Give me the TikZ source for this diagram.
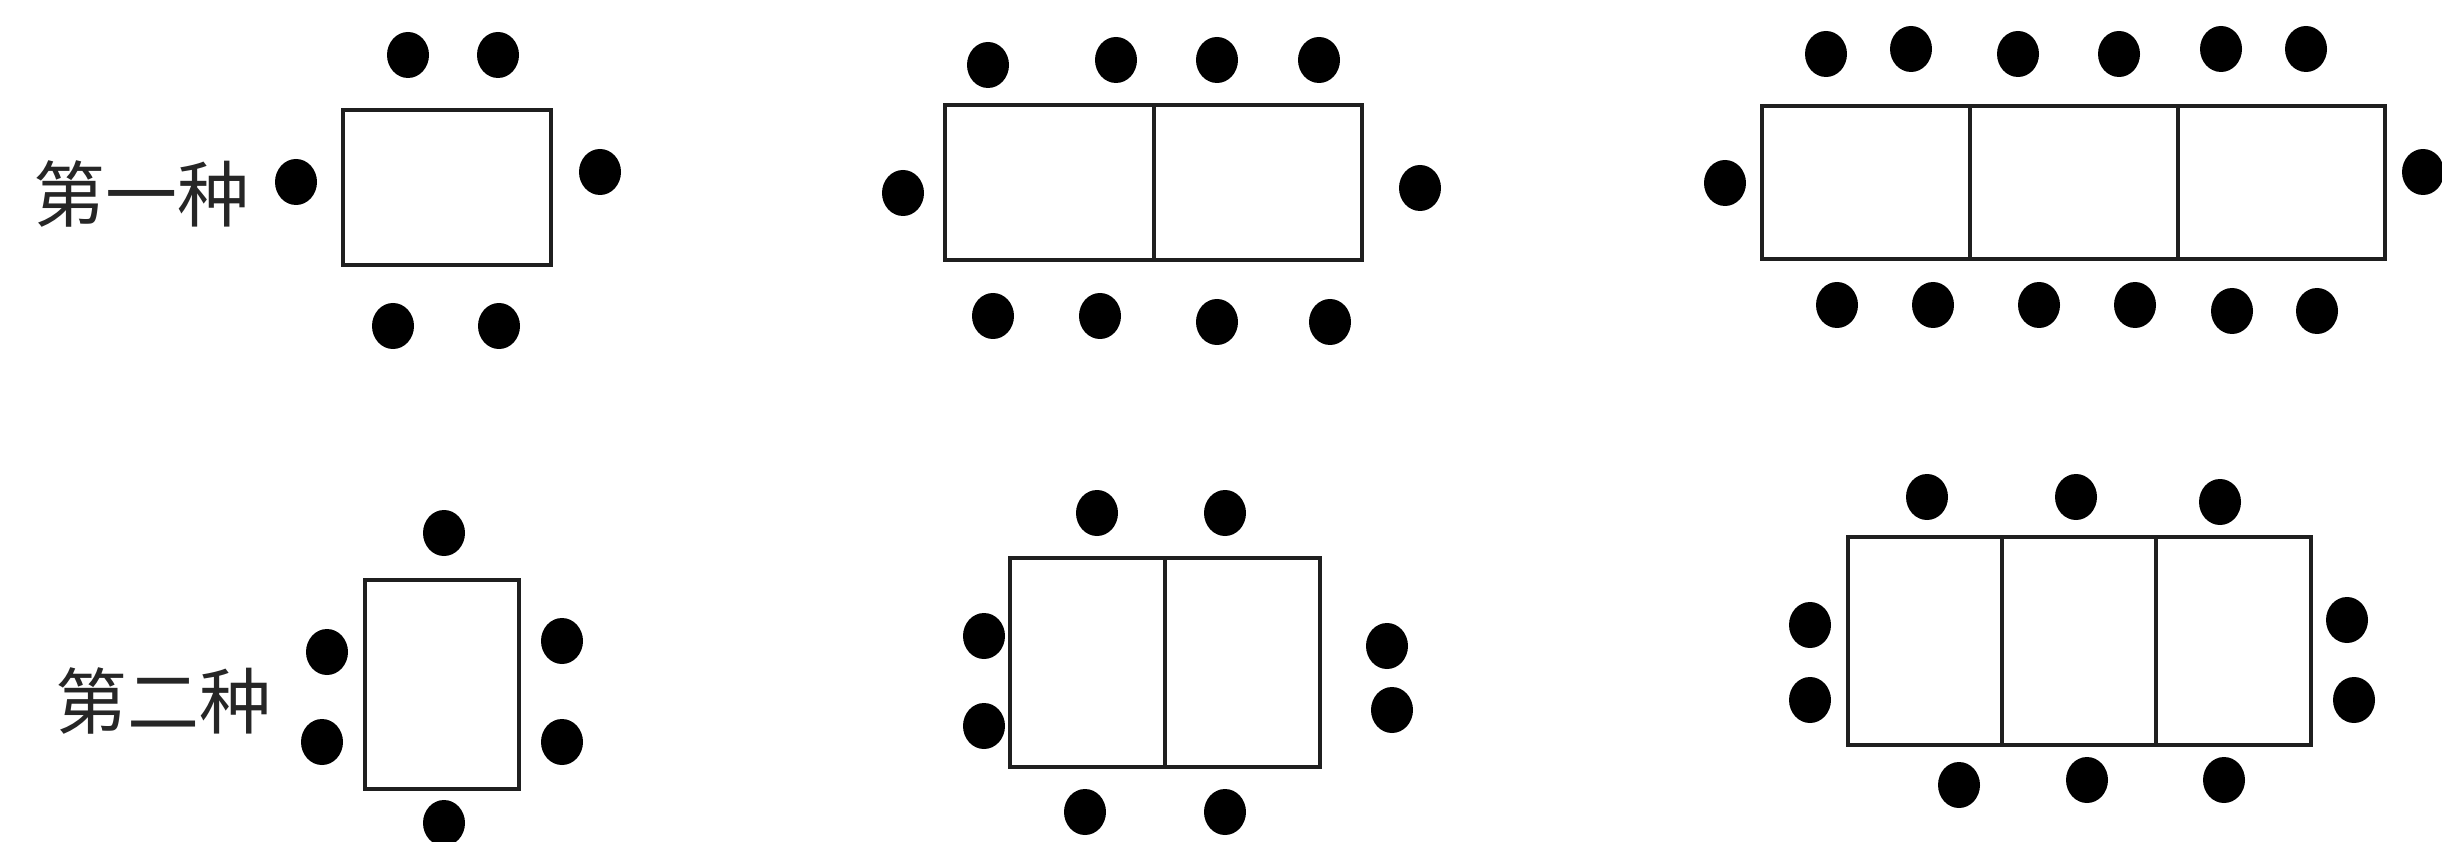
\documentclass[tikz,border=0pt]{standalone}
\usepackage{fontspec}
\newfontfamily\cjkfont{Noto Sans CJK SC}
\tikzset{
  tableline/.style={draw=black!88, line width=4.5pt, line join=miter},
  seatdot/.style={fill=black},
  rowlabel/.style={font=\cjkfont\fontsize{72}{72}\selectfont, text=black!85, inner sep=0pt},
}
% one seat: filled ellipse at (x,y)
\newcommand{\seatat}[2]{\fill[seatdot] (#1,#2) ellipse [x radius=21pt, y radius=23pt];}
\begin{document}
\begin{tikzpicture}[x=1pt, y=-1pt]
  \useasboundingbox (0,0) rectangle (2442,842);
  \fill[white] (0,0) rectangle (2442,842);

  % row labels
  \node[rowlabel] (labelone) at (141,194) {第一种};
  \node[rowlabel] (labeltwo) at (163,701) {第二种};

  % ---- first arrangement: tables joined end to end ----
  % one table
  \draw[tableline] (343,110) rectangle (551,265);
  \foreach \x/\y in {408/55, 498/55, 296/182, 600/172, 393/326, 499/326}
    {\seatat{\x}{\y}}

  % two tables
  \draw[tableline] (945,105) rectangle (1362,260);
  \draw[tableline] (1154,105) -- (1154,260);
  \foreach \x/\y in {988/65, 1116/60, 1217/60, 1319/60, 903/193, 1420/188,
                     993/316, 1100/316, 1217/322, 1330/322}
    {\seatat{\x}{\y}}

  % three tables
  \draw[tableline] (1762,106) rectangle (2385,259);
  \draw[tableline] (1970,106) -- (1970,259);
  \draw[tableline] (2178,106) -- (2178,259);
  \foreach \x/\y in {1826/54, 1911/49, 2018/54, 2119/54, 2221/49, 2306/49,
                     1725/183, 2423/172,
                     1837/305, 1933/305, 2039/305, 2135/305, 2232/311, 2317/311}
    {\seatat{\x}{\y}}

  % ---- second arrangement: tables joined side by side ----
  % one table
  \draw[tableline] (365,580) rectangle (519,789);
  \foreach \x/\y in {444/533, 327/652, 322/742, 562/641, 562/742, 444/823}
    {\seatat{\x}{\y}}

  % two tables
  \draw[tableline] (1010,558) rectangle (1320,767);
  \draw[tableline] (1165,558) -- (1165,767);
  \foreach \x/\y in {1097/513, 1225/513, 984/636, 984/726, 1387/646, 1392/710,
                     1085/812, 1225/812}
    {\seatat{\x}{\y}}

  % three tables
  \draw[tableline] (1848,537) rectangle (2311,745);
  \draw[tableline] (2002,537) -- (2002,745);
  \draw[tableline] (2156,537) -- (2156,745);
  \foreach \x/\y in {1927/497, 2076/497, 2220/502, 1810/625, 1810/700,
                     2347/620, 2354/700, 1959/785, 2087/780, 2224/780}
    {\seatat{\x}{\y}}
\end{tikzpicture}
\end{document}
